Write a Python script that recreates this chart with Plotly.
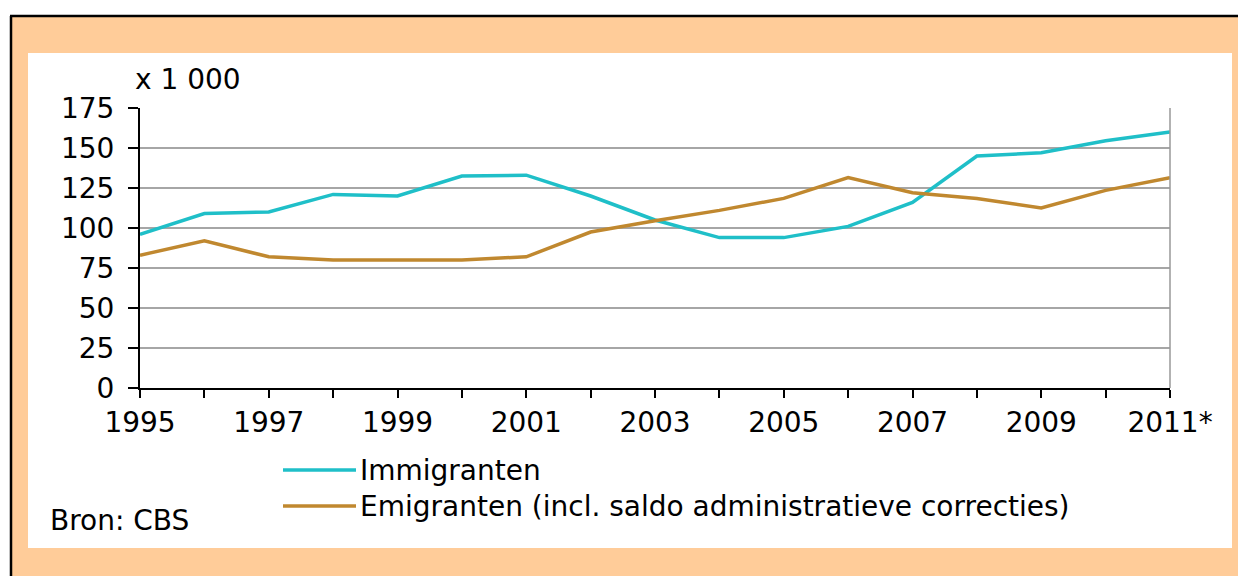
"""Immigratie en emigratie, 1995-2011 (CBS)."""

import plotly.graph_objects as go

years = list(range(1995, 2012))
immigranten = [96, 109, 110, 121, 120, 132.5, 133, 120, 105, 94, 94, 101, 116, 145, 147, 154.5, 160]
emigranten = [83, 92, 82, 80, 80, 80, 82, 97.5, 104.5, 111, 118.5, 131.5, 122, 118.5, 112.5, 123.5, 131.5]
x_labels = ["1995", "", "1997", "", "1999", "", "2001", "", "2003", "", "2005", "", "2007", "", "2009", "", "2011*"]
y_ticks = [0, 25, 50, 75, 100, 125, 150, 175]

CYAN = "#1fbfc8"
BROWN = "#c0882f"
PEACH = "#ffcc99"
FONT = "DejaVu Sans"
FS = 28

W, H = 1238, 576
L, R, T, B = 140, 1170, 108, 388  # plot area in pixels


def px(x):
    return (x - L) / (R - L)


def py(y):
    return (B - y) / (B - T)


fig = go.Figure()
fig.add_trace(go.Scatter(x=years, y=immigranten, mode="lines", name="Immigranten",
                         line=dict(color=CYAN, width=3.5), showlegend=False))
fig.add_trace(go.Scatter(x=years, y=emigranten, mode="lines",
                         name="Emigranten (incl. saldo administratieve correcties)",
                         line=dict(color=BROWN, width=3.5), showlegend=False))

shapes = [
    # peach frame
    dict(type="rect", xref="paper", yref="paper", x0=px(11), x1=px(W), y0=py(H), y1=py(16),
         fillcolor=PEACH, line_width=0, layer="below"),
    # white panel
    dict(type="rect", xref="paper", yref="paper", x0=px(28), x1=px(1232), y0=py(548), y1=py(53),
         fillcolor="white", line_width=0, layer="below"),
    # black frame (top + left)
    dict(type="line", xref="paper", yref="paper", x0=px(10), x1=px(W), y0=py(16), y1=py(16),
         line=dict(color="black", width=2.5)),
    dict(type="line", xref="paper", yref="paper", x0=px(11), x1=px(11), y0=py(16), y1=py(H),
         line=dict(color="black", width=2.5)),
    # right border of plot area
    dict(type="line", xref="paper", yref="paper", x0=1, x1=1, y0=0, y1=1,
         line=dict(color="#999999", width=1.5)),
]

# hand-drawn legend
for i, tr in enumerate(fig.data):
    yy = py(470 + 36 * i)
    shapes.append(dict(type="line", xref="paper", yref="paper", x0=px(283), x1=px(356), y0=yy, y1=yy,
                       line=dict(color=tr.line.color, width=3.5)))

annotations = [
    dict(text="x 1 000", xref="paper", yref="paper", x=px(133), y=py(80), xanchor="left",
         yanchor="middle", showarrow=False, font=dict(family=FONT, size=FS, color="black")),
    dict(text="Bron: CBS", xref="paper", yref="paper", x=px(48), y=py(520), xanchor="left",
         yanchor="middle", showarrow=False, font=dict(family=FONT, size=FS, color="black")),
]
for i, tr in enumerate(fig.data):
    annotations.append(dict(text=tr.name, xref="paper", yref="paper", x=px(358), y=py(470 + 36 * i),
                            xanchor="left", yanchor="middle", showarrow=False,
                            font=dict(family=FONT, size=FS, color="black")))

fig.update_layout(
    width=W,
    height=H,
    margin=dict(l=L, r=W - R, t=T, b=H - B, pad=0),
    paper_bgcolor="white",
    plot_bgcolor="white",
    font=dict(family=FONT, size=FS, color="black"),
    shapes=shapes,
    annotations=annotations,
    showlegend=False,
)
fig.update_xaxes(
    range=[1995, 2011], tickvals=years, ticktext=x_labels, ticks="outside", ticklen=8,
    tickwidth=2, tickcolor="black", showline=True, linecolor="black", linewidth=2,
    showgrid=False, zeroline=False, tickangle=0,
)
fig.update_yaxes(
    range=[0, 175], tickvals=y_ticks, ticks="outside", ticklen=10, tickwidth=2,
    tickcolor="black", showline=True, linecolor="black", linewidth=2,
    gridcolor="#a6a6a6", gridwidth=1.5, zeroline=False, ticklabelstandoff=8,
)

# the page's default 8px body margin would push the figure off the window
fig.write_html("out.html", config={"displayModeBar": False},
               post_script="document.body.style.margin = '0';")
